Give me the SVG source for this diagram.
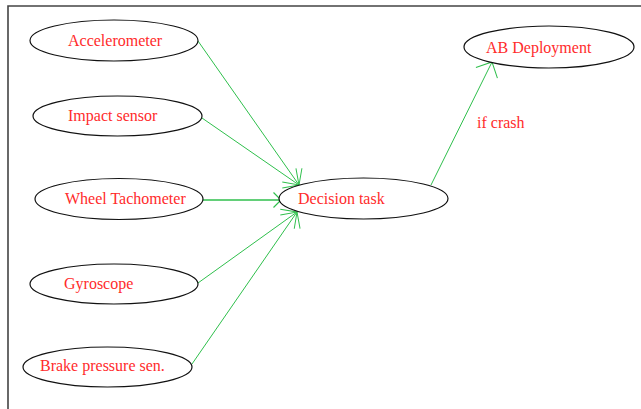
<svg xmlns="http://www.w3.org/2000/svg" width="641" height="409" viewBox="0 0 641 409">
<style>
.n ellipse{fill:#fff;stroke:#111;stroke-width:1.2}
text{font-family:"Liberation Serif","Times New Roman",serif;font-size:16px;fill:#ff2b2b}
.c line{stroke:#2fbf4c;stroke-width:1}
.frame{stroke:#444;stroke-width:1.6;fill:none}
</style>
<defs>
<marker id="ah" markerUnits="userSpaceOnUse" markerWidth="30" markerHeight="30" viewBox="-20 -15 25 30" refX="0" refY="0" orient="auto">
<path d="M-12,-12 L0,0 L-12,12" fill="none" stroke="#2fbf4c" stroke-width="1"/>
</marker>
<marker id="ahs" markerUnits="userSpaceOnUse" markerWidth="20" markerHeight="20" viewBox="-12 -10 15 20" refX="0" refY="0" orient="auto">
<path d="M-7.5,-7.5 L0,0 L-7.5,7.5" fill="none" stroke="#2fbf4c" stroke-width="1.2"/>
</marker>
</defs>
<rect width="641" height="409" fill="#fff"/>
<path class="frame" d="M8,409 L8,6 L641,6"/>
<g class="c" id="connectors">
<line x1="198" y1="41" x2="299" y2="185" marker-end="url(#ah)"/>
<line x1="202" y1="118" x2="299" y2="185" marker-end="url(#ah)"/>
<line x1="203" y1="200" x2="281" y2="200" marker-end="url(#ahs)" style="stroke-width:1.5"/>
<line x1="198" y1="283" x2="297" y2="212" marker-end="url(#ah)"/>
<line x1="192" y1="364" x2="297" y2="212" marker-end="url(#ah)"/>
<line x1="431" y1="185" x2="492" y2="62" marker-end="url(#ah)"/>
<text x="477" y="128">if crash</text>
</g>
<g class="n" id="accelerometer"><ellipse cx="114" cy="40.5" rx="84" ry="20.5"/><text x="68" y="46">Accelerometer</text></g>
<g class="n" id="impact"><ellipse cx="117.5" cy="116" rx="84.5" ry="20"/><text x="68" y="121">Impact sensor</text></g>
<g class="n" id="wheel"><ellipse cx="119" cy="199" rx="84" ry="20.5"/><text x="65" y="204">Wheel Tachometer</text></g>
<g class="n" id="gyroscope"><ellipse cx="114" cy="284" rx="84" ry="20"/><text x="64" y="289">Gyroscope</text></g>
<g class="n" id="brake"><ellipse cx="107.5" cy="367" rx="84.5" ry="20"/><text x="40" y="371">Brake pressure sen.</text></g>
<g class="n" id="decision"><ellipse cx="363.5" cy="198.5" rx="84.5" ry="20.5"/><text x="298" y="204">Decision task</text></g>
<g class="n" id="ab"><ellipse cx="549" cy="47" rx="85" ry="21"/><text x="486" y="53">AB Deployment</text></g>
</svg>
